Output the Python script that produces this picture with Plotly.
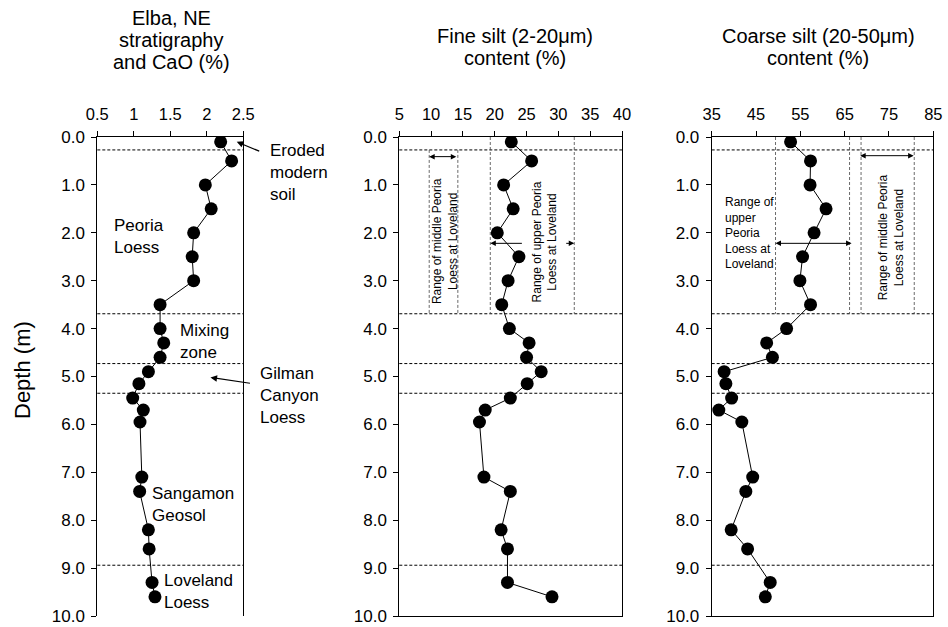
import plotly.graph_objects as go

# ---------------- data ----------------
depth = [0.1, 0.5, 1.0, 1.5, 2.0, 2.5, 3.0, 3.5, 4.0, 4.3, 4.6, 4.9, 5.15, 5.45,
         5.7, 5.95, 7.1, 7.4, 8.2, 8.6, 9.3, 9.6]
cao = [2.19, 2.34, 1.98, 2.06, 1.82, 1.80, 1.82, 1.36, 1.36, 1.41, 1.36, 1.20, 1.07,
       0.985, 1.13, 1.085, 1.11, 1.08, 1.20, 1.21, 1.25, 1.29]
fine_silt = [22.6, 25.8, 21.4, 22.9, 20.4, 23.8, 22.1, 21.1, 22.3, 25.4, 25.0, 27.3,
             25.1, 22.45, 18.5, 17.6, 18.3, 22.45, 21.0, 22.0, 22.0, 29.0]
coarse_silt = [52.8, 57.3, 57.2, 60.8, 58.1, 55.5, 54.9, 57.3, 51.9, 47.4, 48.7, 37.8,
               38.2, 39.5, 36.6, 41.8, 44.25, 42.7, 39.4, 43.1, 48.2, 47.1]

boundaries = [0.27, 3.69, 4.73, 5.35, 8.94]          # unit boundaries (m)
fine_middle_range = [9.7, 14.2]                      # middle Peoria at Loveland
fine_upper_range = [19.3, 32.5]                      # upper Peoria at Loveland
coarse_upper_range = [49.4, 66.1]
coarse_middle_range = [68.7, 80.7]

y_ticks = [0, 1, 2, 3, 4, 5, 6, 7, 8, 9, 10]
x1_ticks = [0.5, 1, 1.5, 2, 2.5]
x1_text = ["0.5", "1", "1.5", "2", "2.5"]
x2_ticks = [5, 10, 15, 20, 25, 30, 35, 40]
x3_ticks = [35, 45, 55, 65, 75, 85]

FONT = "Liberation Sans, Arial, Helvetica, sans-serif"
W, H = 948, 627


def px(x):
    return x / W


def py(y):
    return 1 - y / H


fig = go.Figure()

marker = dict(size=13, color="black")
line = dict(color="black", width=1)
fig.add_trace(go.Scatter(x=cao, y=depth, mode="lines+markers", marker=marker, line=line,
                         xaxis="x", yaxis="y", showlegend=False))
fig.add_trace(go.Scatter(x=fine_silt, y=depth, mode="lines+markers", marker=marker, line=line,
                         xaxis="x2", yaxis="y2", showlegend=False))
fig.add_trace(go.Scatter(x=coarse_silt, y=depth, mode="lines+markers", marker=marker, line=line,
                         xaxis="x3", yaxis="y3", showlegend=False))

ydom = [py(616), py(137)]
xdoms = [[px(97.3), px(243.3)], [px(399.3), px(622)], [px(711.7), px(933.3)]]

common_x = dict(side="top", ticks="outside", ticklen=5, tickwidth=1, tickcolor="black",
                showline=True, linecolor="black", linewidth=1, showgrid=False, zeroline=False,
                automargin=False,
                tickfont=dict(family=FONT, size=16.5, color="black"), ticklabelstandoff=4)
common_y = dict(range=[10, 0], tickvals=y_ticks, tickformat=".1f", ticks="outside", ticklen=5,
                tickwidth=1, tickcolor="black", showline=True, linecolor="black", linewidth=1,
                mirror=True, showgrid=False, zeroline=False, ticklabeloverflow="allow",
                automargin=False, ticklabelstandoff=3,
                tickfont=dict(family=FONT, size=17, color="black"))

fig.update_layout(
    width=W, height=H, margin=dict(l=0, r=0, t=0, b=0, pad=0, autoexpand=False),
    paper_bgcolor="white", plot_bgcolor="white",
    xaxis=dict(domain=xdoms[0], range=[0.5, 2.5], tickvals=x1_ticks, ticktext=x1_text,
               anchor="y", **common_x),
    yaxis=dict(domain=ydom, anchor="x", **common_y),
    xaxis2=dict(domain=xdoms[1], range=[5, 40], tickvals=x2_ticks, anchor="y2", mirror=True,
                **common_x),
    yaxis2=dict(domain=ydom, anchor="x2", **common_y),
    xaxis3=dict(domain=xdoms[2], range=[35, 85], tickvals=x3_ticks, anchor="y3", mirror=True,
                **common_x),
    yaxis3=dict(domain=ydom, anchor="x3", **common_y),
)

shapes = []
dash = "3px,2px"
for i, (xr, yr) in enumerate([("x", "y"), ("x2", "y2"), ("x3", "y3")]):
    for b in boundaries:
        shapes.append(dict(type="line", xref=f"{xr} domain", yref=yr, x0=0, x1=1, y0=b, y1=b,
                           line=dict(color="black", width=1, dash=dash)))

for xv in fine_middle_range:
    shapes.append(dict(type="line", xref="x2", yref="y2", x0=xv, x1=xv, y0=boundaries[0],
                       y1=boundaries[1], line=dict(color="#444", width=0.8, dash=dash)))
for xv in fine_upper_range:
    shapes.append(dict(type="line", xref="x2", yref="y2", x0=xv, x1=xv, y0=0,
                       y1=boundaries[1], line=dict(color="#444", width=0.8, dash=dash)))
for xv in coarse_upper_range + coarse_middle_range:
    shapes.append(dict(type="line", xref="x3", yref="y3", x0=xv, x1=xv, y0=0,
                       y1=boundaries[1], line=dict(color="#444", width=0.8, dash=dash)))
fig.update_layout(shapes=shapes)

ann = []


def txt(text, x, y, xref="paper", yref="paper", size=18, xanchor="center", yanchor="middle",
        align="center", angle=0):
    ann.append(dict(text=text, x=x, y=y, xref=xref, yref=yref, showarrow=False,
                    xanchor=xanchor, yanchor=yanchor, align=align, textangle=angle,
                    font=dict(family=FONT, size=size, color="black")))


def arrow(x, y, ax, ay, xref, yref, both=False):
    ann.append(dict(text="", x=x, y=y, ax=ax, ay=ay, xref=xref, yref=yref, axref=xref,
                    ayref=yref, showarrow=True, arrowhead=2, arrowsize=1.1, arrowwidth=1,
                    arrowcolor="black", arrowside="end+start" if both else "end",
                    standoff=0, startstandoff=0))


# titles (one annotation per line to control spacing)
for t, y in [("Elba, NE", 18), ("stratigraphy", 40), ("and CaO (%)", 62)]:
    txt(t, px(171), py(y), size=20)
for t, y in [("Fine silt (2-20μm)", 36), ("content (%)", 58)]:
    txt(t, px(515), py(y), size=20)
for t, y in [("Coarse silt (20-50μm)", 36), ("content (%)", 58)]:
    txt(t, px(818), py(y), size=20)

txt("Depth (m)", px(22), py(370), size=22, angle=-90)

# stratigraphic labels in panel 1 (data coordinates, centre of each block)
for t, x0, yy in [
    ("Peoria<br>Loess", 0.70, 2.07),
    ("Mixing<br>zone", 1.60, 4.27),
    ("Sangamon<br>Geosol", 1.22, 7.68),
    ("Loveland<br>Loess", 1.38, 9.48),
]:
    txt(t, x0, yy, xref="x", yref="y", xanchor="left", align="left", size=17)

# labels to the right of panel 1 (paper coordinates)
txt("Eroded<br>modern<br>soil", px(268), py(172), xanchor="left", align="left", size=17)
txt("Gilman<br>Canyon<br>Loess", px(258), py(395), xanchor="left", align="left", size=17)

# arrows in panel 1
ann.append(dict(text="", x=2.41, y=0.1, xref="x", yref="y", ax=24, ay=10, showarrow=True,
                arrowhead=2, arrowsize=1.1, arrowwidth=1.2, arrowcolor="black", standoff=0))
ann.append(dict(text="", x=2.05, y=5.02, xref="x", yref="y", ax=41, ay=6, showarrow=True,
                arrowhead=2, arrowsize=1.1, arrowwidth=1.2, arrowcolor="black", standoff=0))

# panel 2 range labels
txt("Range of middle Peoria<br>Loess at Loveland", 12.2, 2.17, xref="x2", yref="y2",
    size=12, angle=-90)
txt("Range of upper Peoria<br>Loess at Loveland", 27.9, 2.2, xref="x2", yref="y2",
    size=12, angle=-90)
arrow(fine_middle_range[0], 0.41, fine_middle_range[1], 0.41, "x2", "y2", both=True)
arrow(fine_upper_range[0], 2.22, 24.5, 2.22, "x2", "y2")
arrow(fine_upper_range[1], 2.22, 31.0, 2.22, "x2", "y2")

# panel 3 range labels
txt("Range of<br>upper<br>Peoria<br>Loess at<br>Loveland", 37.6, 2.0, xref="x3", yref="y3",
    size=12, xanchor="left", align="left")
txt("Range of middle Peoria<br>Loess at Loveland", 75.4, 2.1, xref="x3", yref="y3",
    size=12, angle=-90)
arrow(coarse_upper_range[0], 2.22, coarse_upper_range[1] + 0.8, 2.22, "x3", "y3", both=True)
arrow(coarse_middle_range[0] - 0.2, 0.39, coarse_middle_range[1] + 0.2, 0.39, "x3", "y3",
      both=True)

fig.update_layout(annotations=ann)
fig.write_html("out.html")
